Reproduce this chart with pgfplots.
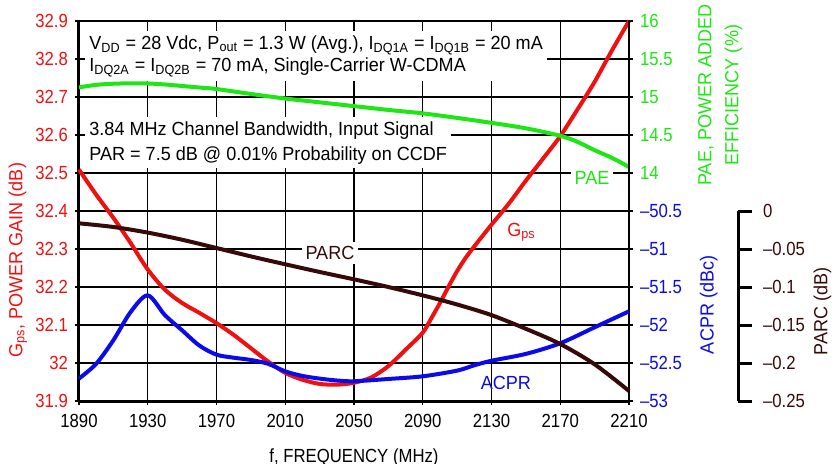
\documentclass[border=0pt]{standalone}
\usepackage{fontspec}
\setmainfont{Liberation Sans}[FakeStretch=0.88]
\newfontfamily\lblfont{Liberation Sans}[FakeStretch=0.95]
\usepackage{pgfplots}
\pgfplotsset{compat=1.18}
\definecolor{gpsred}{RGB}{240,16,16}
\definecolor{paegreen}{RGB}{30,230,20}
\definecolor{acprblue}{RGB}{10,10,235}
\definecolor{parcbrown}{RGB}{55,10,10}
\newcommand\fs{\fontsize{9.5pt}{11pt}\selectfont}
\newcommand\lfs{\lblfont\fontsize{9.5pt}{11pt}\selectfont}

\begin{document}
\begin{tikzpicture}
\pgfplotsset{every axis/.append style={
    scale only axis, width=275pt, height=190pt,
    xmin=1890, xmax=2210, font=\fs,
    /pgf/number format/assume math mode=true}}

% gain, grid and x axis
\begin{axis}[
    ymin=31.9, ymax=32.9,
    xtick={1890,1930,1970,2010,2050,2090,2130,2170,2210},
    xticklabels={1890,1930,1970,2010,2050,2090,2130,2170,2210},
    xticklabel style={yshift=-1pt},
    ytick={31.9,32,32.1,32.2,32.3,32.4,32.5,32.6,32.7,32.8,32.9},
    yticklabels={31.9,32,32.1,32.2,32.3,32.4,32.5,32.6,32.7,32.8,32.9},
    yticklabel style={gpsred},
    grid=major, grid style={black, line width=0.7pt},
    axis x line*=bottom, axis y line*=left,
    axis line style={-, line width=1.5pt},
    tick align=outside, major tick length=2pt,
    tick style={black, line width=0.7pt},
    xlabel={f, FREQUENCY (MHz)},
    xlabel style={yshift=-3.5pt},
    ylabel={G\textsubscript{ps}, POWER GAIN (dB)},
    ylabel style={gpsred, font=\lfs, at={(axis description cs:-0.111,0.37)}, anchor=center},
    clip=false,
]
\addplot[gpsred, line width=2pt, smooth] coordinates {
 (1890,32.509) (1900,32.443) (1910,32.382) (1920,32.316) (1930,32.246)
 (1940,32.193) (1950,32.158) (1960,32.132) (1970,32.105) (1980,32.074)
 (1990,32.039) (2000,32.004) (2010,31.974) (2020,31.956) (2030,31.945)
 (2040,31.943) (2050,31.948) (2060,31.962) (2070,31.992) (2080,32.035)
 (2090,32.080) (2095,32.118) (2100,32.158) (2105,32.201) (2110,32.242)
 (2115,32.277) (2120,32.307) (2130,32.364) (2140,32.419) (2150,32.480)
 (2160,32.538) (2170,32.597) (2180,32.667) (2190,32.740) (2200,32.822)
 (2210,32.900)};
\node[fill=white, anchor=west, align=left, inner sep=2pt, font=\lfs] at (axis cs:1893.5,32.808)
 {V\textsubscript{DD} = 28 Vdc, P\textsubscript{out} = 1.3 W (Avg.), I\textsubscript{DQ1A} = I\textsubscript{DQ1B} = 20 mA\\
  I\textsubscript{DQ2A} = I\textsubscript{DQ2B} = 70 mA, Single-Carrier W-CDMA};
\node[fill=white, anchor=west, align=left, inner sep=2pt, font=\lfs] at (axis cs:1893.5,32.58)
 {3.84 MHz Channel Bandwidth, Input Signal\\[1.5pt]
  PAR = 7.5 dB @ 0.01\% Probability on CCDF};
\node[fill=white, text=paegreen, inner sep=2pt, font=\lfs] at (axis cs:2188.5,32.487) {PAE};
\node[text=gpsred, font=\lfs] at (axis cs:2147.5,32.345) {G\textsubscript{ps}};
\node[fill=white, text=parcbrown, inner sep=2pt, font=\lfs] at (axis cs:2036,32.29) {PARC};
\node[text=acprblue, font=\lfs] at (axis cs:2138.4,31.947) {ACPR};
\end{axis}

% PAE, right
\begin{axis}[
    ymin=11, ymax=16,
    axis x line=none, axis y line*=right,
    axis line style={-, line width=0.7pt},
    ytick={14,14.5,15,15.5,16},
    yticklabels={14,14.5,15,15.5,16},
    yticklabel style={paegreen},
    tick align=outside, major tick length=2pt,
    tick style={black, line width=0.7pt},
    ylabel={PAE, POWER ADDED\\[2.5pt]EFFICIENCY (\%)},
    ylabel style={paegreen, font=\lfs, align=center, at={(axis description cs:1.166,0.805)}, anchor=center},
    clip=false,
]
\addplot[paegreen, line width=2pt, smooth] coordinates {
 (1890,15.127) (1900,15.160) (1910,15.175) (1920,15.180) (1930,15.178)
 (1940,15.165) (1950,15.145) (1960,15.125) (1970,15.105) (1990,15.040)
 (2010,14.980) (2030,14.930) (2050,14.880) (2070,14.830) (2090,14.785)
 (2110,14.725) (2130,14.660) (2150,14.588) (2170,14.490) (2180,14.410)
 (2190,14.300) (2200,14.200) (2210,14.080)};
\end{axis}

% ACPR, right
\begin{axis}[
    ymin=-53, ymax=-48,
    axis x line=none, axis y line*=right,
    axis line style={-, line width=0.7pt},
    ytick={-53,-52.5,-52,-51.5,-51,-50.5},
    yticklabels={–53,–52.5,–52,–51.5,–51,–50.5},
    yticklabel style={acprblue},
    tick align=outside, major tick length=2pt,
    tick style={black, line width=0.7pt},
    ylabel={ACPR (dBc)},
    ylabel style={acprblue, font=\lfs, at={(axis description cs:1.145,0.253)}, anchor=center},
    clip=false,
]
\addplot[acprblue, line width=2pt, smooth] coordinates {
 (1890,-52.705) (1900,-52.51) (1910,-52.20) (1920,-51.83) (1930,-51.61)
 (1940,-51.87) (1950,-52.07) (1960,-52.27) (1970,-52.39) (1980,-52.43)
 (1990,-52.46) (2000,-52.51) (2010,-52.61) (2020,-52.67) (2030,-52.705)
 (2040,-52.73) (2050,-52.74) (2070,-52.71) (2090,-52.675) (2110,-52.60)
 (2120,-52.53) (2130,-52.47) (2150,-52.38) (2170,-52.24) (2190,-52.03)
 (2210,-51.82)};
\end{axis}

% PARC curve on the shared area
\begin{axis}[hide axis, ymin=-0.25, ymax=0.25, clip=false]
\addplot[parcbrown, line width=2pt, smooth] coordinates {
 (1890,-0.0162) (1910,-0.0210) (1930,-0.0284) (1950,-0.0378) (1970,-0.0487)
 (1990,-0.0597) (2010,-0.0701) (2030,-0.0802) (2050,-0.0899) (2070,-0.1000)
 (2090,-0.1110) (2110,-0.1230) (2130,-0.1370) (2150,-0.1550) (2170,-0.1750)
 (2190,-0.2017) (2210,-0.2368)};
\end{axis}

% PARC scale, detached on the far right
\begin{axis}[
    at={(329.5pt,0pt)}, anchor=south east,
    width=10pt, height=95pt,
    xmin=0, xmax=1, ymin=-0.25, ymax=0,
    axis x line=none, axis y line*=right,
    axis line style={-, line width=1.5pt, black},
    ytick={-0.25,-0.2,-0.15,-0.1,-0.05,0},
    yticklabels={–0.25,–0.2,–0.15,–0.1,–0.05,0},
    yticklabel style={parcbrown, xshift=2pt},
    tick align=outside, major tick length=7pt,
    tick style={black, line width=1.5pt},
    ylabel={PARC (dB)},
    ylabel style={parcbrown, font=\lfs, at={(axis description cs:5.22,0.47)}, anchor=center},
]
\end{axis}
\pgfresetboundingbox
\path (-39.5pt,-31pt) rectangle (377.5pt,200.5pt);
\end{tikzpicture}
\end{document}
